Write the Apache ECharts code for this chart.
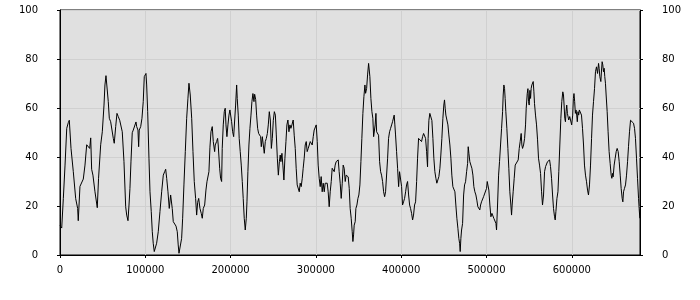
<!DOCTYPE html>
<html>
<head>
<meta charset="utf-8">
<script src="https://cdn.jsdelivr.net/npm/echarts@6/dist/echarts.min.js"></script>
<style>
html,body{margin:0;padding:0;background:#fff;}
#chart{width:700px;height:300px;}
</style>
</head>
<body>
<div id="chart"></div>
<script>
// x positions (sample index units) and values
var xValues = [
0,2000,3900,5900,7900,9700,10900,12900,15600,18400,20700,21400,23400,25400,27300,29300,31300,33200,34800,36000,37100,38600,41000,43700,45200,47700,49600,51600,52700,53900,55100,56600,57800,59400,60600,62500,63600,65300,66800,68300,70000,71100,73000,75000,77000,78200,79700,80900,
82000,83200,84700,85900,87500,89100,89900,91400,92200,92900,94600,96100,97600,98800,100000,100800,101600,102800,104300,105500,107000,108200,109300,110500,111700,113300,115200,117200,119200,121100,122700,123900,125100,126600,128100,129700,130400,131600,132800,134400,136000,137500,138600,139500,141500,142600,143800,145300,146900,148500,150000,151200,152000,152700,154400,155900,157400,159000,160200,161400,162600,164100,165600,166800,168000,169600,171100,172300,173500,174600,
175800,177000,178500,179700,181300,182000,183600,184800,185500,187200,188300,189500,190200,191400,192600,193700,194600,195700,196900,198100,199200,200400,201200,202400,203600,204800,205900,207100,207800,209000,210100,211300,212500,213700,214800,216000,217200,218400,219200,220300,221500,222700,223900,225000,226200,227400,228200,229400,230500,231700,232900,234100,235200,236000,237200,238400,239500,240700,241900,243100,244200,245400,246600,247800,248900,250100,251300,252500,253600,254800,256000,257200,258200,
259000,260200,261300,262500,263700,264900,266000,267200,268400,269600,270700,271900,273400,274600,275800,276900,278100,279300,280500,281600,282800,284000,285100,286300,287500,288700,289800,291000,292200,293400,294500,295700,296900,298000,299200,300400,301600,302700,303900,305100,306200,307400,308600,309800,310900,312100,313300,314400,315600,316800,318000,319100,320300,321500,322600,323800,325000,326200,327300,328500,329700,330900,332000,333200,334400,335500,336700,337900,339100,340200,341400,342600,343400,344200,344900,346100,
346900,348100,349300,350400,351600,352800,353900,355100,356300,357500,358300,359500,360600,361800,362500,363300,364500,365700,366800,367700,368400,369500,370400,371200,372400,373500,374700,375900,377000,378200,379400,380600,381700,382900,384100,385200,386400,387600,388800,389900,391100,391800,392600,393400,394600,395800,397000,398100,399300,400500,401600,402800,404000,405200,406300,407500,408700,409900,411000,412200,413400,414500,415700,416900,418100,419200,420400,421600,422700,423900,425100,426300,427400,428600,429800,430900,431600,432500,433600,
434800,436000,437200,438300,439500,440700,441800,443000,444200,445400,446500,447700,448900,450000,450800,451600,452400,453600,454800,455900,457100,458300,459400,460600,461800,463000,464100,465300,466500,467600,468500,469200,470000,470800,472000,473200,474300,475500,476700,477900,478600,479400,480500,481700,482900,484100,485200,486400,487600,488700,489900,491100,492200,493100,494200,495400,496600,497800,498900,500100,500900,502000,502800,504000,505200,506400,507500,508700,509900,511100,511800,513000,514200,515300,516500,517700,518900,519600,520400,521200,521900,
522700,523900,525100,526200,527400,528600,529400,530100,531300,532500,533700,534800,536000,537200,538400,539500,540700,541500,542300,543500,544700,545800,546600,547800,548600,549300,550100,550900,551700,552400,553200,554000,554800,555600,556300,557500,558700,559900,561000,562200,563400,564600,565700,566900,568100,569300,570400,571600,572800,574000,575100,576300,577500,578600,579800,580600,581400,582600,583800,584800,586000,587200,588300,589500,590300,591000,591800,592600,593300,594100,594900,595600,596400,597600,598700,599900,601100,601900,602600,603400,604200,605000,605800,606500,607300,608100,608900,609600,
610600,611400,612600,613800,614900,616100,617300,618500,619600,620800,622000,623200,624300,625500,626700,627800,629000,630200,631400,632100,632900,634100,634900,635600,636400,637200,638000,638700,639500,640300,641500,642600,643800,645000,646200,647000,647800,648500,649700,650900,652100,653200,654400,655600,656800,657900,659100,659900,660700,661800,663000,664200,665400,666500,667700,668900,670100,671200,672400,673600,674700,675900,677100,678300,679000,679800
];
var seriesValues = [
12,11,23,36.7,51.7,54,55,43.5,34,23,19,14,28,28,31,36.7,45,45,43.5,47.8,35,32.6,25.8,19.3,31.3,45,50.3,61.2,69.4,73.2,72.4,62.6,55.8,54.4,55,47.6,45.6,52.4,57.8,56.5,55,55.4,50.3,38.1,19.7,16.3,14,20.4,
27.2,38,49.9,51,50.5,54.3,52.4,51,44.2,51,52.4,55.8,62.6,72.8,73.5,74.1,69.4,58.5,39.5,25.8,17.7,9.5,4.8,1.4,1.4,4.8,9.5,17.7,25.8,32.6,34,35,31.3,25.8,19,24.5,24,19,13.6,13,11.8,9.5,4.1,0.7,0.7,6.8,15,28.6,42.2,55.8,64,70.1,69.4,65.3,55.8,42.2,30,23.1,16.3,21.5,23.1,19,17,15,19,20.4,26.5,29.9,29.3,34,
44,50.3,52.4,46.3,42.2,44.9,46.3,47.6,44.9,35.4,31.3,30,43.5,53.1,58.5,59.9,53.1,48.3,53.1,57.1,59.2,59.9,54.4,50.3,48.3,55.1,61.2,69.4,63.9,57.1,47.6,42.2,36.7,30,23.1,15,10.2,15,21.7,34,44.9,51.7,57.1,62.6,65.9,62.6,65.6,63.5,57.1,51.7,49.6,50.3,48.3,44.2,48.3,47.6,41.5,46.3,47.6,49.6,53.1,58.5,55.1,43.5,47.6,55,58.5,57.1,49,39.5,32.6,38.1,40.8,
38.1,41.5,36.7,30.6,39.5,46.3,53.1,55.1,50.3,53.1,51.7,53.1,55.1,48.9,43.5,35.4,28.6,27.9,25.8,29.3,27.9,31.3,35.4,39.5,44.9,46.3,42.2,43.5,42.9,46.3,46.9,44.9,48.3,51,50.3,53.1,46.3,36.7,31.3,27.9,32,25.8,29.3,25.8,29.3,30,29.3,25.8,19.7,25.8,30,35.4,36,34,36.7,38.1,38.8,38.8,34,29.3,23.1,29.3,36.7,35.4,30,32.6,32.6,31.9,27.2,19,15,9.5,5.5,8.2,12.2,13.6,
19,20.4,23.1,24.5,28.6,38.1,47.6,57.8,64.6,69.4,66,68,73.5,78.2,77.6,72.8,63.9,58.5,55.8,48.3,47.6,53.1,57.8,50.3,50.3,48.9,38.1,34,32.6,30,25.8,23.8,25.8,25.8,39.5,47.6,50.3,51.7,53.1,54.4,55.1,57.1,53.1,49,42.2,35.4,27.9,34,34.7,27.9,20.4,21.7,23.1,25.8,28.6,30,24.5,20.4,19,17,14.3,16.3,20.4,21.7,30,39.5,47.6,47.6,46.9,46.3,48.3,49.6,50.3,47.6,42.2,36,47.6,55,57.8,
57.1,54.9,47.6,39.5,34,31.3,29.3,29.3,32,35.4,40.8,47.6,55.8,61.2,63.3,59.9,57.1,55.1,53.1,49,44.9,39.5,32.6,27.9,27.2,25.8,20.4,15,10.9,6.8,4.8,1.4,6.8,10.2,12.9,24.5,28.6,29.9,34,37.4,44.2,41.5,38.1,36.7,35.4,32.6,27.9,25.8,24.5,22.4,19.7,19,18.4,20.4,21.7,22.4,23.8,23.8,23.1,27.2,30,30,26.5,20.4,15.6,17,17.7,14.9,15,12.9,10.2,20.4,32.6,38.1,44.9,51.7,58.5,65.3,69.4,68,63.9,
58.5,51.7,43.5,35.4,25.8,20.4,16.3,20.4,25.8,31.3,36.7,36,37.4,38.8,43.5,46.3,49.6,44.9,43.5,44.9,47.6,53.1,59.9,65.9,67.9,62.6,61.2,67.2,63.9,68,69.4,70.1,70.8,66.6,61.9,57.1,53.1,47,39.5,36.7,33.3,25.8,20.4,24.5,34,36.1,36.7,38.1,38.8,38.8,36.1,31.3,24.5,19,15.6,14.3,17.7,23.1,25.8,34,44.9,55.8,62.6,66.6,65.3,61.2,55.8,54.4,58.5,61.2,57.8,58.5,55.1,56.5,55.8,53.1,57.1,63.9,65.9,62.6,57.8,59.2,57.1,54.4,58.5,57.1,59.2,59.9,
59.2,57.1,51.7,44.9,36.7,32.6,29.9,26.5,24.5,28.6,36.7,47.6,57.1,62.6,68,74.8,76.8,74.1,78.2,76.2,72.8,70.8,75.5,78.9,77.6,74.8,76.2,72.8,70.1,65.3,58.5,50.3,42.2,37.4,32.6,31.3,33.3,31.9,36.7,39.5,42.2,43.5,42.2,38.1,32.6,27.2,23.1,21.7,25.8,27.2,28.6,32.6,38.1,44.2,50.3,55,55,54.4,53.8,51.7,47.6,39.5,31.3,23.1,19,15
];
var xMin = 0, xMax = 680000, xStep = 100000;
var yMin = 0, yMax = 100, yStep = 20;

var points = xValues.map(function (x, i) { return [x, seriesValues[i]]; });

var chart = echarts.init(document.getElementById('chart'), null, {renderer: 'canvas'});
var labelFont = {color: '#000', fontFamily: 'DejaVu Sans', fontSize: 10};
function yAxisDef(pos) {
  return {
    type: 'value', position: pos, min: yMin, max: yMax, interval: yStep,
    axisLine: {show: true, lineStyle: {color: '#000', width: 1}},
    axisTick: {show: true, length: 3, lineStyle: {color: '#000'}},
    axisLabel: Object.assign({margin: 22}, labelFont),
    splitLine: {show: pos === 'left', lineStyle: {color: '#d0d0d0', width: 1}}
  };
}
chart.setOption({
  animation: false,
  backgroundColor: '#ffffff',
  grid: {left: 60, right: 60, top: 10, bottom: 45, show: true,
         backgroundColor: '#e0e0e0', borderColor: '#000', borderWidth: 1},
  xAxis: {
    type: 'value', min: xMin, max: xMax, interval: xStep,
    axisLine: {show: true, onZero: false, lineStyle: {color: '#000', width: 1}},
    axisTick: {show: true, length: 3, lineStyle: {color: '#000'}},
    axisLabel: Object.assign({margin: 10, showMaxLabel: false,
      formatter: function (v) { return (v % xStep === 0) ? String(v) : ''; }}, labelFont),
    splitLine: {show: true, lineStyle: {color: '#d0d0d0', width: 1}}
  },
  yAxis: [yAxisDef('left'), yAxisDef('right')],
  series: [{
    type: 'line', data: points, showSymbol: false, symbol: 'none',
    lineStyle: {color: '#000', width: 1}, silent: true
  }]
});
</script>
</body>
</html>
